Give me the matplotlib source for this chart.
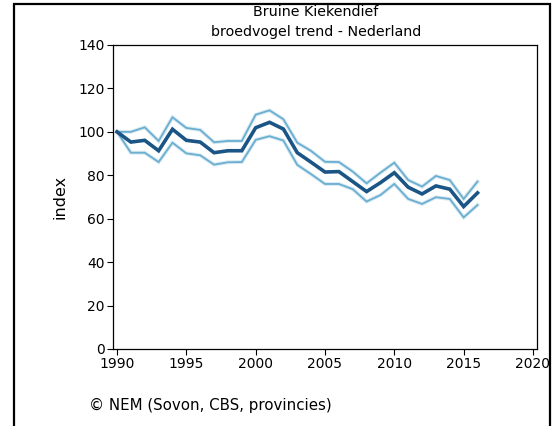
import numpy as np
import matplotlib
matplotlib.use('Agg')
import matplotlib.pyplot as plt
from matplotlib.patches import Rectangle

# index values (1990 = 100)
years = list(range(1990, 2017))
trend = [100, 95.3, 96.1, 91.3, 101.2, 96.1, 95.3, 90.4, 91.3, 91.3,
         101.9, 104.4, 101.3, 90.4, 86.0, 81.5, 81.7, 77.1, 72.5, 76.6,
         81.2, 74.5, 71.4, 75.1, 73.6, 65.6, 71.9]
upper = [100, 100.0, 102.1, 95.8, 106.7, 101.8, 100.9, 95.2, 95.8, 95.8,
         107.9, 109.9, 105.8, 95.0, 91.2, 86.2, 86.1, 81.7, 76.3, 81.2,
         85.8, 77.8, 74.8, 79.7, 77.8, 69.1, 77.1]
lower = [100, 90.4, 90.4, 86.1, 95.0, 90.1, 89.2, 84.9, 86.0, 86.1,
         96.3, 98.0, 96.0, 84.8, 80.5, 76.0, 76.0, 73.6, 67.9, 70.9,
         76.0, 69.1, 66.8, 69.9, 69.1, 60.6, 66.3]

title_lines = ['Bruine Kiekendief', 'broedvogel trend - Nederland']
source = '\u00a9 NEM (Sovon, CBS, provincies)'

W, H = 552, 426
fig = plt.figure(figsize=(W / 100, H / 100), dpi=100)
ax = fig.add_axes([113 / W, 1 - 349 / H, 424 / W, 304 / H])

band_col = '#6aaed0'
for band in (upper, lower):
    ax.plot(years, band, color=band_col, lw=2.8, alpha=0.25, solid_joinstyle='miter')
    ax.plot(years, band, color=band_col, lw=1.3, solid_joinstyle='miter')
ax.plot(years, trend, color='#1b5585', lw=2.6, solid_joinstyle='miter')

ax.set_xlim(1989.71, 2020.29)
ax.set_ylim(0, 140)
ax.set_xticks(range(1990, 2021, 5))
ax.set_yticks(range(0, 141, 20))
ax.tick_params(direction='out', length=4.5, width=0.8, labelsize=10, pad=1.5, colors='black')
for s in ax.spines.values():
    s.set_linewidth(0.9)
ax.set_ylabel('index', fontsize=11.5, labelpad=8)

fig.text(316 / W, 1 - 12 / H, title_lines[0], ha='center', va='center', fontsize=10.3)
fig.text(316 / W, 1 - 32 / H, title_lines[1], ha='center', va='center', fontsize=10.3)
fig.text(89 / W, 1 - 405 / H, source, ha='left', va='center', fontsize=10.8)

# outer frame, open at the bottom edge
fig.patches.append(Rectangle((14 / W, -0.02), 536 / W, 1.02 - 4 / H,
                             transform=fig.transFigure, fill=False,
                             edgecolor='black', lw=1.6))

fig.savefig('out.png', dpi=100)
